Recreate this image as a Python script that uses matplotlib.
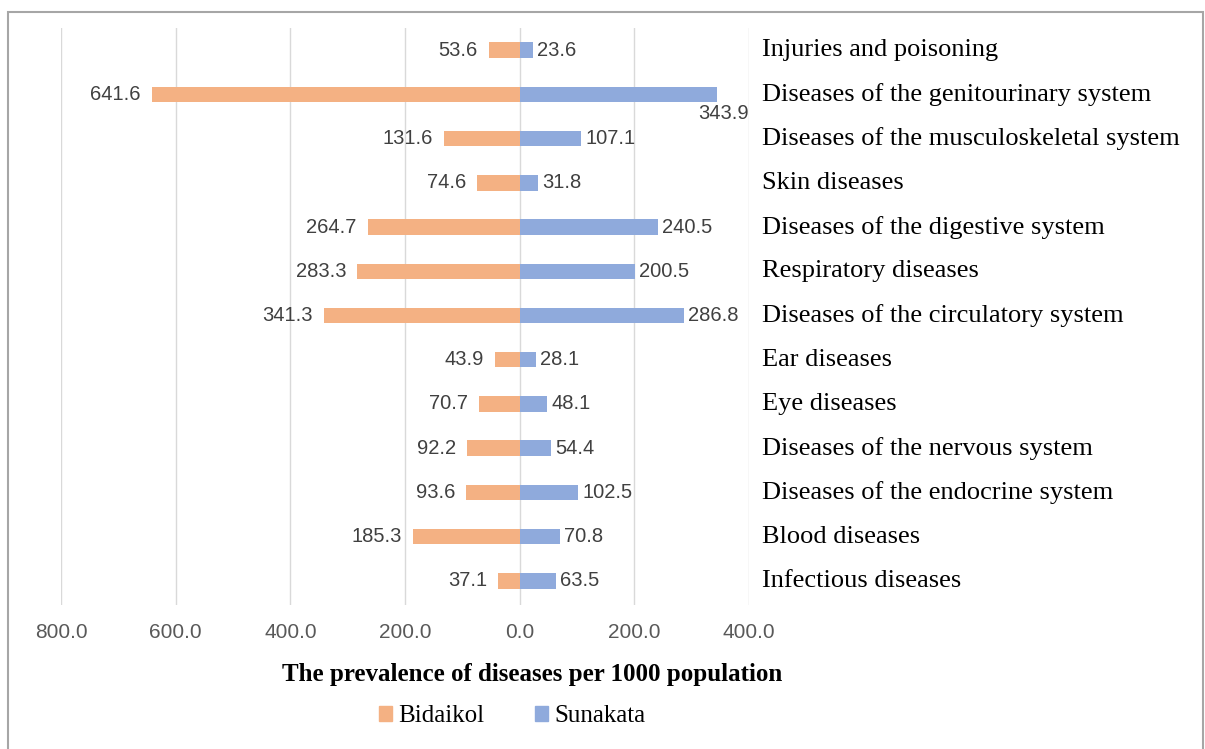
import matplotlib
matplotlib.use('Agg')
import matplotlib.pyplot as plt
from matplotlib.patches import Rectangle, Patch

# categories from bottom to top
categories = ['Infectious diseases', 'Blood diseases', 'Diseases of the endocrine system',
              'Diseases of the nervous system', 'Eye diseases', 'Ear diseases',
              'Diseases of the circulatory system', 'Respiratory diseases',
              'Diseases of the digestive system', 'Skin diseases',
              'Diseases of the musculoskeletal system', 'Diseases of the genitourinary system',
              'Injuries and poisoning']
bidaikol = [37.1, 185.3, 93.6, 92.2, 70.7, 43.9, 341.3, 283.3, 264.7, 74.6, 131.6, 641.6, 53.6]
sunakata = [63.5, 70.8, 102.5, 54.4, 48.1, 28.1, 286.8, 200.5, 240.5, 31.8, 107.1, 343.9, 23.6]
ticks = [-800, -600, -400, -200, 0, 200, 400]
tick_labels = ['800.0', '600.0', '400.0', '200.0', '0.0', '200.0', '400.0']

orange = '#F4B183'
blue = '#8FAADC'
num_font = ['Liberation Sans Narrow', 'Liberation Sans', 'DejaVu Sans']
serif = ['Liberation Serif', 'DejaVu Serif']

fig = plt.figure(figsize=(12.05, 7.49), dpi=100)
ax = fig.add_axes([0.0506, 0.192, 0.571, 0.7706])

y = list(range(len(categories)))
ax.barh(y, [-v for v in bidaikol], height=0.35, color=orange, label='Bidaikol')
ax.barh(y, sunakata, height=0.35, color=blue, label='Sunakata')

ax.set_xlim(-800, 400)
ax.set_ylim(-0.55, 12.5)
ax.set_xticks(ticks)
ax.set_xticklabels(tick_labels, family=num_font, fontsize=15, color='#595959')
ax.tick_params(axis='x', length=0, pad=13)
ax.grid(axis='x', color='#D9D9D9', linewidth=1)
ax.set_axisbelow(True)
for s in ax.spines.values():
    s.set_visible(False)

ax.yaxis.tick_right()
ax.set_yticks(y)
ax.set_yticklabels(categories, family=serif, fontsize=19, color='black')
ax.tick_params(axis='y', length=0, pad=9)
for lbl in ax.get_yticklabels():
    lbl.set_verticalalignment('center')

# data labels
for i in y:
    ax.annotate('%.1f' % bidaikol[i], (-bidaikol[i], i), xytext=(-8, 0), textcoords='offset points',
                ha='right', va='center', family=num_font, fontsize=14.5, color='#404040')
    if sunakata[i] > 300:
        ax.annotate('%.1f' % sunakata[i], (400, i), xytext=(0, -14), textcoords='offset points',
                    ha='right', va='center', family=num_font, fontsize=14.5, color='#404040')
    else:
        ax.annotate('%.1f' % sunakata[i], (sunakata[i], i), xytext=(3, 0), textcoords='offset points',
                    ha='left', va='center', family=num_font, fontsize=14.5, color='#404040')

fig.text(0.442, 0.1, 'The prevalence of diseases per 1000 population', ha='center', va='center',
         family=serif, fontsize=18, fontweight='bold')

handles = [Patch(color=orange, label='Bidaikol'), Patch(color=blue, label='Sunakata')]
fig.legend(handles=handles, loc='center', bbox_to_anchor=(0.425, 0.044), ncol=2, frameon=False,
           prop={'family': serif, 'size': 18}, handlelength=0.55, handleheight=0.55,
           handletextpad=0.25, columnspacing=2.0)

fig.patches.append(Rectangle((0.0066, -0.01), 0.992, 0.9945, transform=fig.transFigure,
                             fill=False, edgecolor='#A6A6A6', linewidth=1.5))

fig.savefig('out.png', dpi=100)
